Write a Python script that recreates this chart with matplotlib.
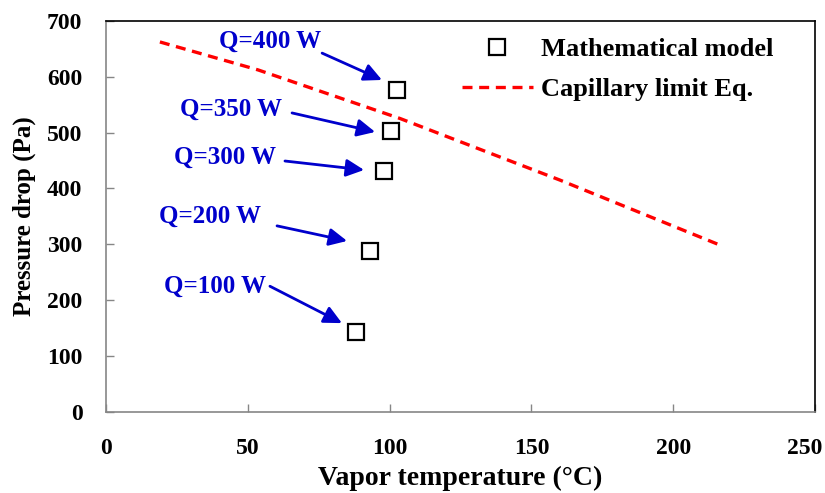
import matplotlib
matplotlib.use('Agg')
import matplotlib.pyplot as plt
import matplotlib.transforms as mtransforms

# mathematical model points
vapor_temp = [88, 93, 98, 100.5, 102.5]
pressure_drop = [143, 288, 432, 503, 576]
heat_loads = ['Q=100 W', 'Q=200 W', 'Q=300 W', 'Q=350 W', 'Q=400 W']

# capillary limit curve
cap_temp = [19, 53.6, 103.7, 160, 215.8]
cap_pressure = [662, 612, 525, 415, 300]

# annotation text / arrow positions (data coords)
label_pos = [(38.3, 225), (36.5, 351), (41.8, 456), (43.9, 542), (57.8, 664)]
arrow_tail = [(57.8, 225), (60.3, 333), (63.1, 449), (65.6, 535), (76.2, 642)]
arrow_head = [(83.2, 159), (85.0, 306), (91.0, 433), (94.9, 501), (97.3, 594)]

plt.rcParams['font.family'] = ['Liberation Serif', 'DejaVu Serif']
plt.rcParams['font.weight'] = 'bold'

fig = plt.figure(figsize=(8.25, 4.93), dpi=100)
ax = fig.add_axes([0.1285, 0.1643, 0.8594, 0.7937])

ax.plot(vapor_temp, pressure_drop, 's', markersize=12, markerfacecolor='white',
        markeredgecolor='black', markeredgewidth=1.6, label='Mathematical model')
ax.plot(cap_temp, cap_pressure, '--', color='#FF0000', linewidth=2.4, dashes=(3, 2),
        label='Capillary limit Eq.')

blue = '#0000CC'
for txt, pos, tail, head in zip(heat_loads, label_pos, arrow_tail, arrow_head):
    ax.text(pos[0], pos[1], txt, color=blue, fontsize=18, fontweight='bold',
            ha='center', va='center')
    ax.annotate('', xy=head, xytext=tail,
                arrowprops=dict(arrowstyle='-|>,head_length=0.45,head_width=0.22',
                                color=blue, lw=2, mutation_scale=24, shrinkA=0, shrinkB=0))

ax.set_xlim(0, 250)
ax.set_ylim(0, 700)
ax.set_xticks(range(0, 251, 50))
ax.set_yticks(range(0, 701, 100))
ax.tick_params(direction='in', length=6, width=1, color='#868686', labelsize=17)
ax.tick_params(axis='y', pad=17)
ax.tick_params(axis='x', pad=19)
for lbl in ax.get_xticklabels() + ax.get_yticklabels():
    lbl.set_fontweight('bold')
# keep last x label inside the figure
last = ax.get_xticklabels()[-1]
last.set_transform(last.get_transform() + mtransforms.ScaledTranslation(-0.1, 0, fig.dpi_scale_trans))

for side in ['left', 'bottom']:
    ax.spines[side].set_color('#868686')
    ax.spines[side].set_linewidth(1.2)
for side in ['top', 'right']:
    ax.spines[side].set_color('black')
    ax.spines[side].set_linewidth(1.2)

ax.set_xlabel('Vapor temperature (°C)', fontsize=20, fontweight='bold', labelpad=5)
ax.set_ylabel('Pressure drop (Pa)', fontsize=18, fontweight='bold', labelpad=8)

ax.legend(loc='upper right', bbox_to_anchor=(0.941, 0.957), frameon=False, fontsize=19,
          handlelength=2.7, handletextpad=0.3, borderpad=0, borderaxespad=0,
          labelspacing=0.63)

fig.savefig('out.png', dpi=100)
